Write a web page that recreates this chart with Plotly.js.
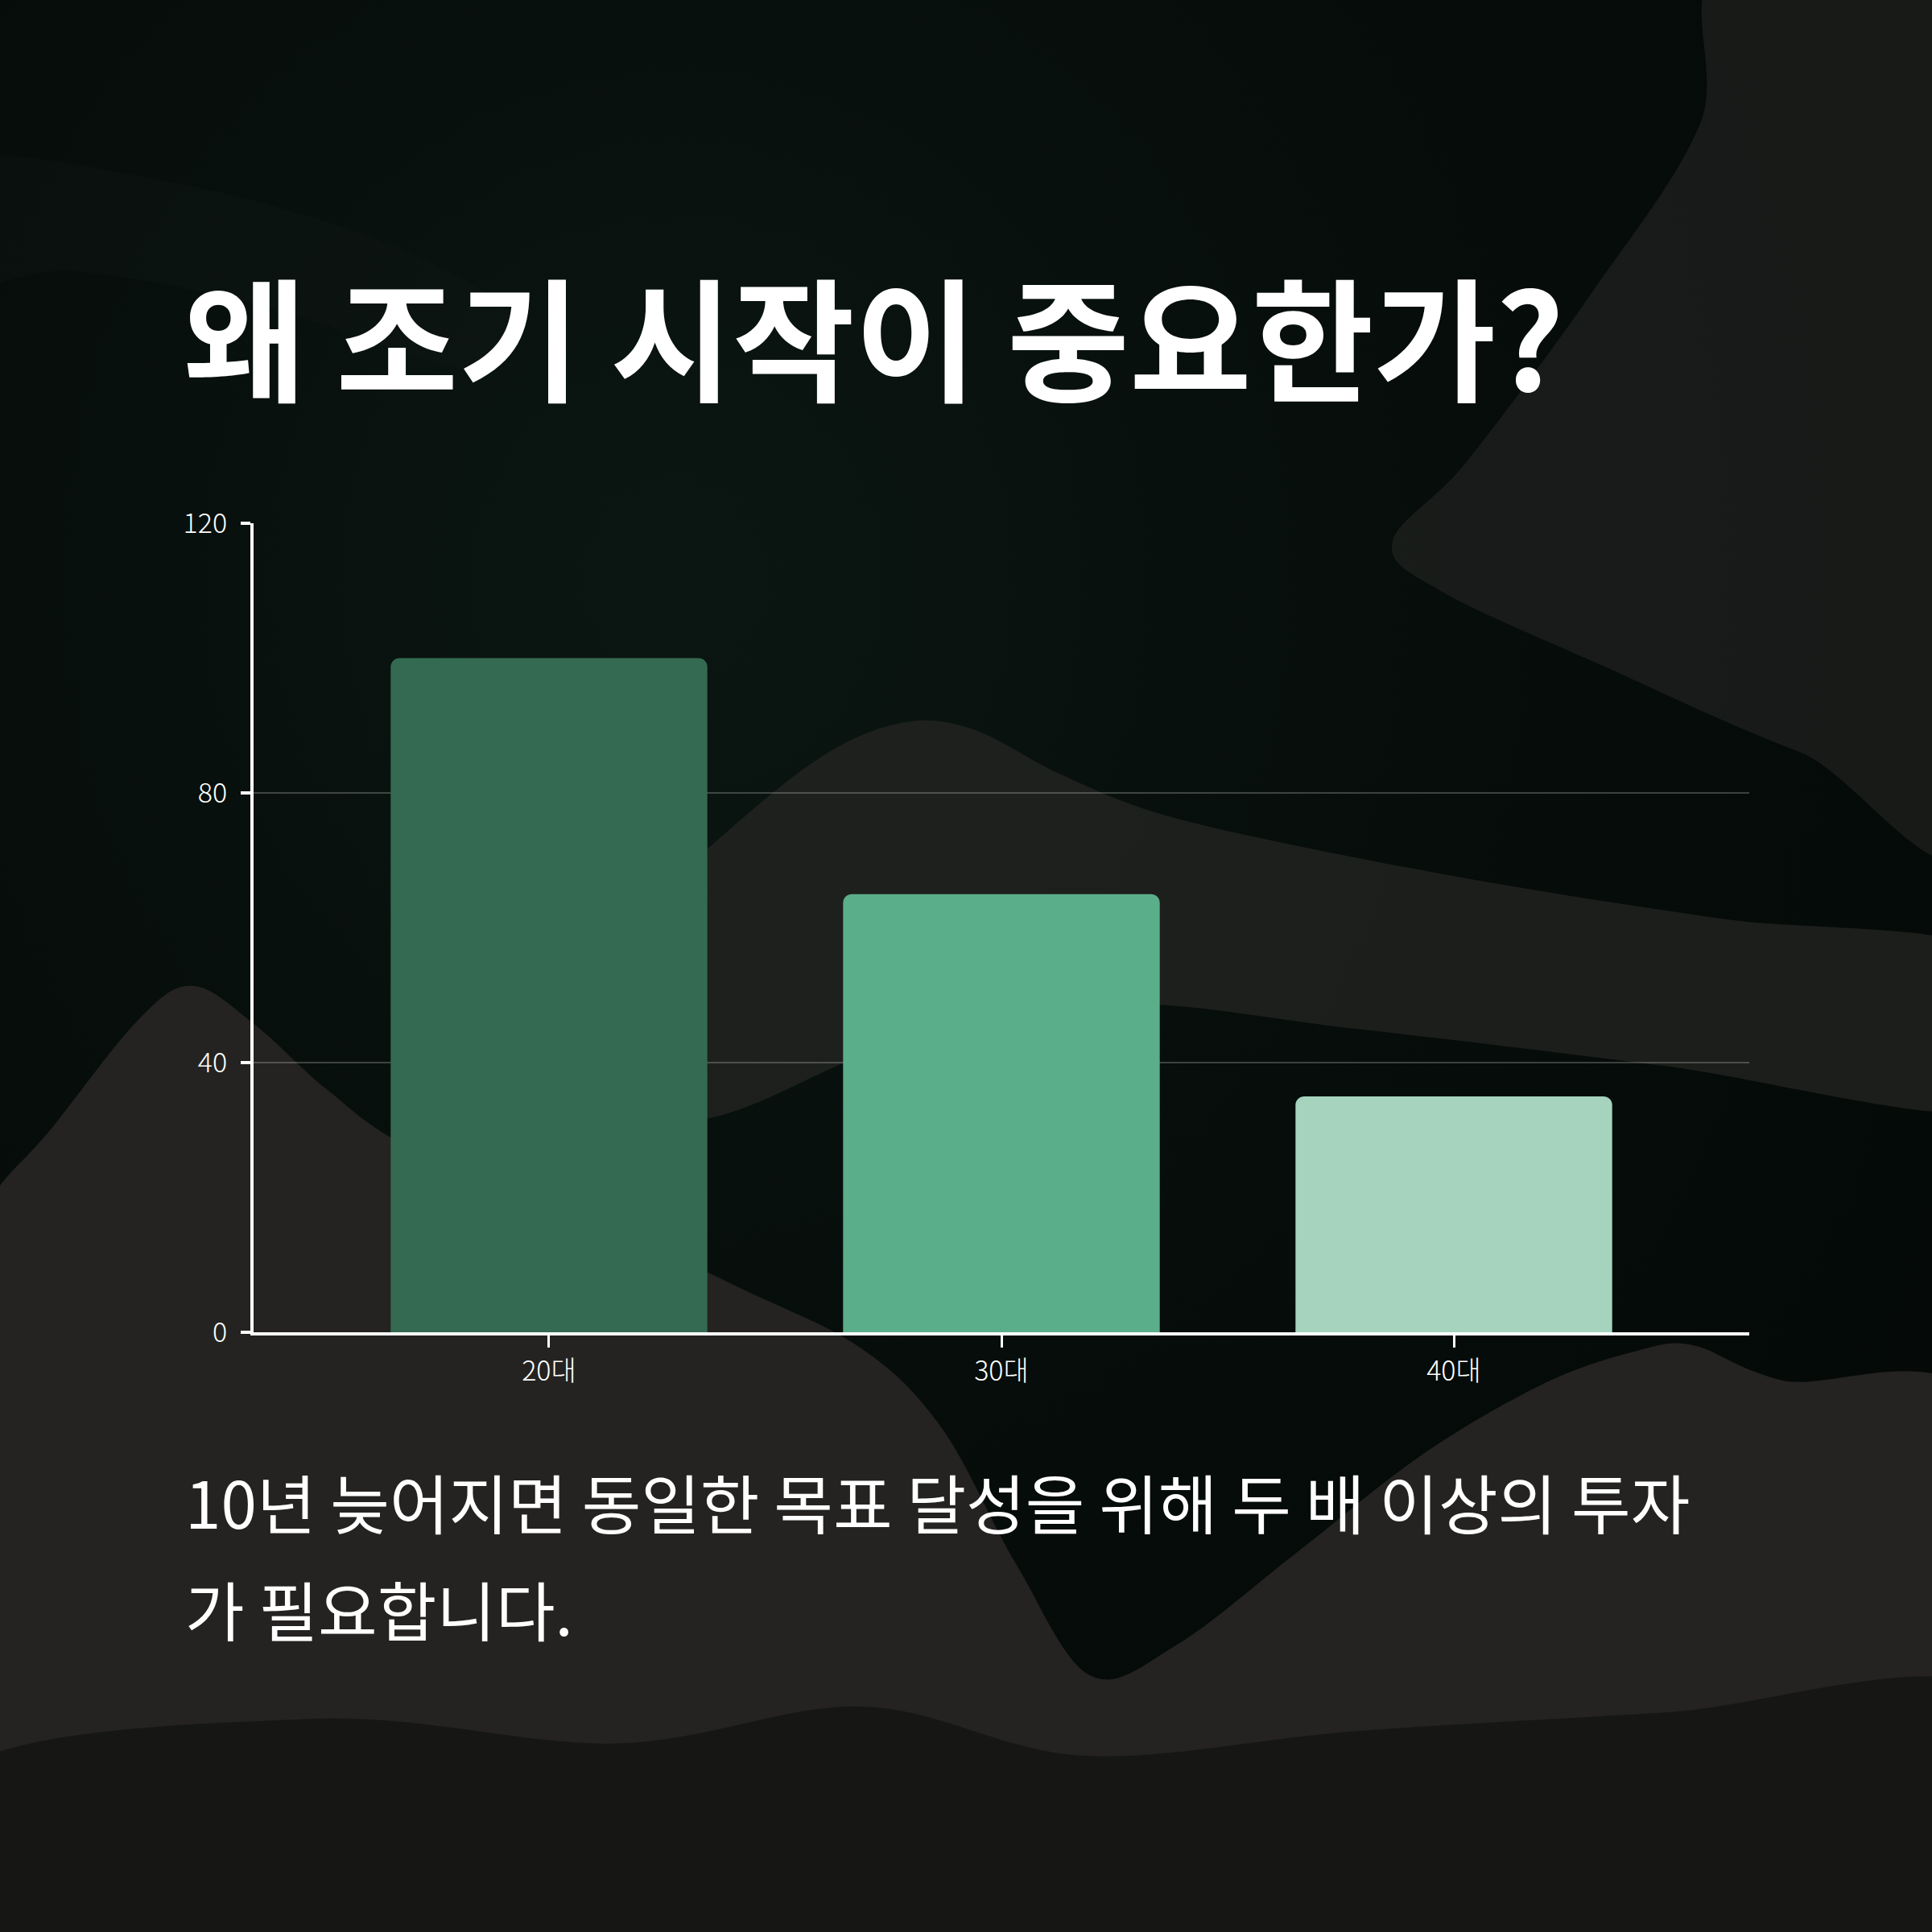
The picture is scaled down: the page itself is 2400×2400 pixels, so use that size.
<!DOCTYPE html>
<html>
<head>
<meta charset="utf-8">
<script src="https://cdn.plot.ly/plotly-3.0.1.min.js"></script>
<style>
  html, body { margin: 0; padding: 0; background: #050a08; }
  #chart {
    width: 2400px; height: 2400px;
    background: radial-gradient(ellipse at 35% 30%, #0b1612 0%, #060d0a 45%, #040806 100%);
  }
</style>
</head>
<body>
<div id="chart"></div>
<script>
// data
var ageGroups = ['20대', '30대', '40대'];
var investNeeded = [100, 65, 35];
var barColors = ['#346a51', '#5bae8a', '#a5d3be'];
var yTicks = [0, 40, 80, 120];

var titleText = '왜 조기 시작이 중요한가?';
var noteLine1 = '10년 늦어지면 동일한 목표 달성을 위해 두 배 이상의 투자';
var noteLine2 = '가 필요합니다.';

// plot box in page pixels
var L = 315, T = 650, W = 1858, H = 1005;
var KR = '"Noto Sans CJK KR", "Noto Sans", sans-serif';

// background waves, points given on a 1568px sketch of the page, smoothed (catmull-rom)
function wave(pts, color) {
    var k = 2400 / 1568;
    var P = pts.map(function (p) {
        return [((p[0] * k) - L) / W, (T + H - p[1] * k) / H];
    });
    var f = function (v) { return v.toFixed(4); };
    var n = P.length;
    var d = 'M' + f(P[0][0]) + ',' + f(P[0][1]);
    for (var i = 0; i < n; i++) {
        var p0 = P[(i - 1 + n) % n], p1 = P[i], p2 = P[(i + 1) % n], p3 = P[(i + 2) % n];
        var c1 = [p1[0] + (p2[0] - p0[0]) / 6, p1[1] + (p2[1] - p0[1]) / 6];
        var c2 = [p2[0] - (p3[0] - p1[0]) / 6, p2[1] - (p3[1] - p1[1]) / 6];
        d += ' C' + f(c1[0]) + ',' + f(c1[1]) + ' ' + f(c2[0]) + ',' + f(c2[1]) + ' ' + f(p2[0]) + ',' + f(p2[1]);
    }
    return { type: 'path', xref: 'paper', yref: 'paper', path: d + ' Z', fillcolor: color, line: { width: 0 }, layer: 'below' };
}

var shapes = [
    // faint top-left swirl
    wave([[-40, 130], [150, 150], [320, 200], [420, 260], [380, 300], [220, 250], [60, 220], [-40, 230]],
         'rgba(30,34,32,0.18)'),
    // top right band
    wave([[1400, -30], [1620, -30], [1620, 660], [1460, 610], [1300, 540], [1170, 480], [1130, 440],
          [1190, 375], [1290, 240], [1380, 100]], 'rgba(40,40,38,0.55)'),
    // middle ridge
    wave([[400, 880], [500, 760], [590, 675], [670, 612], [735, 586], [790, 592], [860, 628], [940, 660],
          [1060, 688], [1220, 718], [1400, 746], [1620, 775], [1620, 900], [1350, 865], [1100, 835],
          [900, 815], [720, 850], [560, 910]], 'rgba(38,38,36,0.7)'),
    // left mountain and lower mass
    wave([[-60, 1040], [0, 962], [40, 918], [110, 830], [155, 800], [205, 830], [265, 884], [330, 930], [450, 975],
          [600, 1045], [700, 1095], [765, 1160], [825, 1270], [885, 1360], [955, 1335], [1055, 1258],
          [1155, 1180], [1255, 1122], [1330, 1096], [1375, 1092], [1445, 1120], [1620, 1160],
          [1620, 1620], [-60, 1620]], '#242321'),
    // darker lower swell
    wave([[-40, 1440], [250, 1395], [500, 1415], [700, 1385], [880, 1425], [1100, 1405], [1350, 1390],
          [1620, 1375], [1620, 1620], [-40, 1620]], 'rgba(8,12,10,0.5)')
];

var trace = {
    type: 'bar',
    x: ageGroups,
    y: investNeeded,
    width: 0.7,
    marker: { color: barColors, cornerradius: 11, line: { width: 0 } },
    hoverinfo: 'skip'
};

var layout = {
    width: 2400,
    height: 2400,
    paper_bgcolor: 'rgba(0,0,0,0)',
    plot_bgcolor: 'rgba(0,0,0,0)',
    margin: { l: L, r: 2400 - L - W, t: T, b: 2400 - T - H, pad: 0 },
    showlegend: false,
    font: { family: KR, color: '#ffffff' },
    title: {
        text: '<b>' + titleText + '</b>',
        font: { family: KR, size: 165, color: '#ffffff' },
        xref: 'container', yref: 'container',
        x: 228 / 2400, xanchor: 'left',
        y: 1 - 428 / 2400, yanchor: 'middle'
    },
    xaxis: {
        type: 'category',
        range: [-0.653, 2.653],
        showline: true, linecolor: '#ffffff', linewidth: 4,
        ticks: 'outside', ticklen: 15, tickwidth: 3, tickcolor: '#ffffff',
        tickfont: { family: KR, size: 34, color: '#ffffff', weight: 300 },
        showgrid: false, zeroline: false, fixedrange: true
    },
    yaxis: {
        range: [0, 120],
        tickvals: yTicks,
        showline: true, linecolor: '#ffffff', linewidth: 4,
        ticks: 'outside', ticklen: 12, tickwidth: 4, tickcolor: '#ffffff',
        ticklabelstandoff: 10,
        tickfont: { family: KR, size: 34, color: '#ffffff', weight: 300 },
        showgrid: true, gridcolor: 'rgba(255,255,255,0.22)', gridwidth: 2,
        zeroline: false, fixedrange: true
    },
    shapes: shapes,
    annotations: [
        { text: noteLine1, xref: 'paper', yref: 'paper', x: (228 - L) / W, y: (T + H - 1864) / H,
          xanchor: 'left', yanchor: 'middle', showarrow: false,
          font: { family: KR, size: 80, color: '#ffffff' } },
        { text: noteLine2, xref: 'paper', yref: 'paper', x: (228 - L) / W, y: (T + H - 1997) / H,
          xanchor: 'left', yanchor: 'middle', showarrow: false,
          font: { family: KR, size: 80, color: '#ffffff' } }
    ]
};

Plotly.newPlot('chart', [trace], layout, { displayModeBar: false, staticPlot: true });
</script>
</body>
</html>
